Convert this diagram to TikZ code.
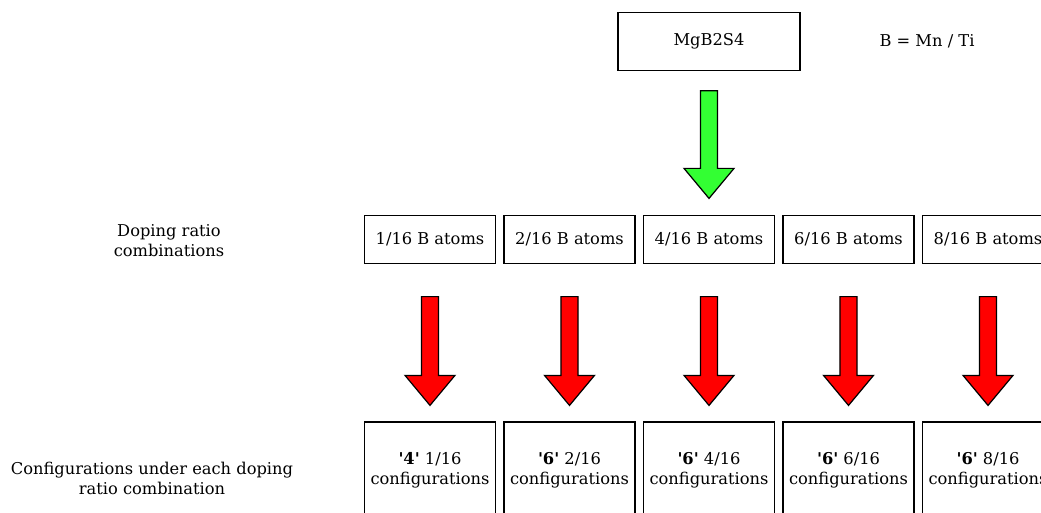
\documentclass[tikz,border=0pt]{standalone}
\usepackage{fontspec}
\setmainfont{DejaVu Serif}
\usetikzlibrary{calc}

\definecolor{arrowgreen}{RGB}{51,255,51}
\definecolor{arrowred}{RGB}{255,0,0}

\tikzset{
    box/.style={draw, line width=0.9pt, inner sep=2pt, align=center},
    ratiobox/.style={box, minimum width=98.25pt, minimum height=36pt},
    confbox/.style={box, minimum width=98.25pt, minimum height=72pt},
    arrowline/.style={line width=0.9pt, line join=miter}
}

% block arrow pointing down: #1 = top of shaft, #2 = tip, #3 = fill
\newcommand{\blockarrow}[3]{%
    \draw[arrowline, fill=#3] let \p1=(#1), \p2=(#2) in
        (\x1-6.4pt,\y1) -- (\x1+6.4pt,\y1) -- (\x1+6.4pt,\y2+22.5pt)
        -- (\x1+18.75pt,\y2+22.5pt) -- (\x1,\y2) -- (\x1-18.75pt,\y2+22.5pt)
        -- (\x1-6.4pt,\y2+22.5pt) -- cycle;}

\begin{document}
\begin{tikzpicture}[x=0.75pt,y=-0.75pt, font=\fontsize{12.2}{15}\selectfont]
        \clip (0,0) rectangle (1041,513);
        \node[box, minimum width=136.5pt, minimum height=43pt] (mgb) at (709,41.5) {MgB2S4};
        \node (rule) at (927,41) {B = Mn / Ti};
        \node[align=center] (ratiolabel) at (169,241) {Doping ratio\\combinations};
        \node[align=center] (conflabel) at (152,478) {Configurations under each doping\\ratio combination};
        \foreach[count=\i from 0] \num/\cnt in {1/4,2/6,4/6,6/6,8/6} {
            \node[ratiobox] (ratio\i) at ({430+139.5*\i},239.5) {\num/16 B atoms};
            \node[confbox] (conf\i) at ({430+139.5*\i},470) {{\bfseries\textquotesingle\cnt\textquotesingle} \num/16\\configurations};
            \coordinate (rtop\i) at ($(ratio\i.south)+(0,32.5)$);
            \coordinate (rtip\i) at ($(conf\i.north)+(0,-16)$);
            \blockarrow{rtop\i}{rtip\i}{arrowred}
        }
        \coordinate (gtop) at ($(mgb.south)+(0,20)$);
        \coordinate (gtip) at ($(ratio2.north)+(0,-16.5)$);
        \blockarrow{gtop}{gtip}{arrowgreen}
\end{tikzpicture}
\end{document}
